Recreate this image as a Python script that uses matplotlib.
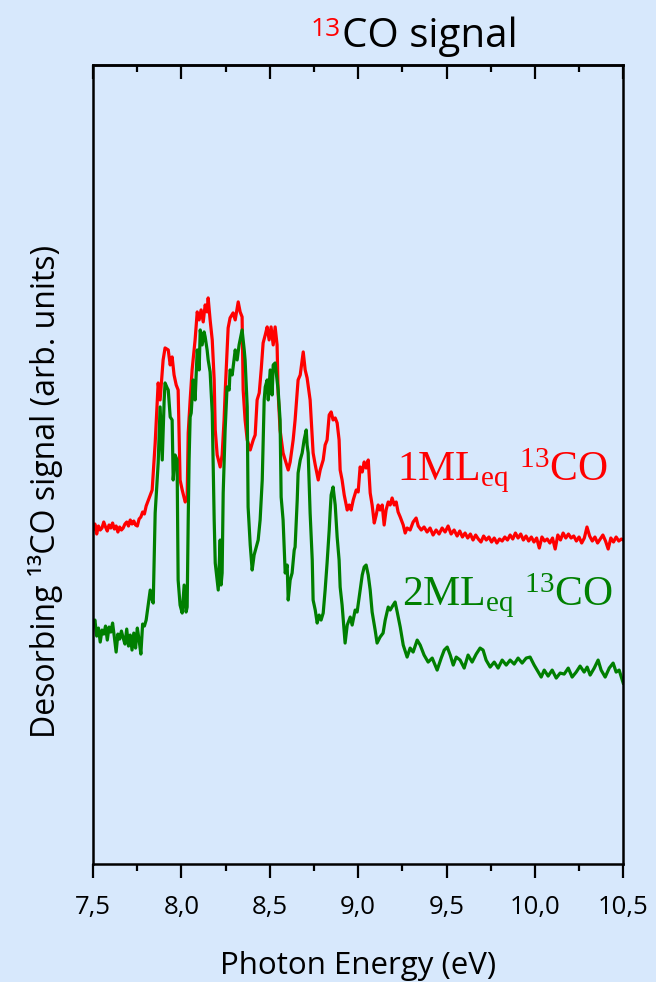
import matplotlib
matplotlib.use("Agg")
import matplotlib.pyplot as plt
from matplotlib.ticker import MultipleLocator, FuncFormatter

# 1 ML_eq 13CO desorption yield (arb. units) vs photon energy (eV)
e_1ml = [7.50, 7.51, 7.52, 7.53, 7.54, 7.55, 7.56, 7.57, 7.58, 7.59, 7.60, 7.61, 7.62, 7.63, 7.64,
         7.65, 7.66, 7.67, 7.68, 7.69, 7.70, 7.71, 7.72, 7.73, 7.74, 7.75, 7.76, 7.77, 7.78, 7.79,
         7.80, 7.834, 7.851, 7.868, 7.879, 7.896, 7.907, 7.925, 7.936, 7.947, 7.958, 7.970, 7.981,
         7.987, 7.992, 8.004, 8.021, 8.032, 8.038, 8.049, 8.060, 8.077, 8.089, 8.100, 8.111, 8.123,
         8.134, 8.145, 8.151, 8.162, 8.174, 8.185, 8.191, 8.202, 8.219, 8.230, 8.241, 8.247, 8.258,
         8.264, 8.275, 8.292, 8.304, 8.321, 8.332, 8.343, 8.349, 8.360, 8.372, 8.389, 8.406, 8.417,
         8.428, 8.440, 8.451, 8.462, 8.474, 8.485, 8.496, 8.507, 8.519, 8.530, 8.541, 8.547, 8.558,
         8.575, 8.587, 8.604, 8.615, 8.632, 8.643, 8.660, 8.672, 8.689, 8.700, 8.711, 8.728, 8.745,
         8.757, 8.774, 8.785, 8.802, 8.813, 8.824, 8.836, 8.847, 8.858, 8.870, 8.881, 8.892, 8.898,
         8.909, 8.921, 8.938, 8.949, 8.960, 8.972, 8.989, 9.000, 9.011, 9.023, 9.034, 9.045, 9.057,
         9.068, 9.079, 9.091, 9.102, 9.113, 9.124, 9.136, 9.147, 9.158, 9.170, 9.181, 9.192, 9.204,
         9.215, 9.226, 9.238, 9.255, 9.266, 9.277, 9.294, 9.311, 9.328, 9.340, 9.357, 9.373, 9.390,
         9.407, 9.424, 9.441, 9.458, 9.475, 9.492, 9.509, 9.526, 9.543, 9.56, 9.575, 9.59, 9.605,
         9.62, 9.635, 9.65, 9.665, 9.68, 9.695, 9.71, 9.725, 9.74, 9.755, 9.77, 9.785, 9.80, 9.815,
         9.83, 9.845, 9.86, 9.875, 9.89, 9.905, 9.92, 9.935, 9.95, 9.965, 9.98, 9.995, 10.01, 10.025,
         10.04, 10.055, 10.07, 10.085, 10.10, 10.115, 10.13, 10.145, 10.16, 10.175, 10.19, 10.205,
         10.22, 10.235, 10.25, 10.265, 10.28, 10.295, 10.31, 10.325, 10.34, 10.355, 10.37, 10.385,
         10.40, 10.415, 10.43, 10.445, 10.46, 10.475, 10.49, 10.50]
s_1ml = [3.35, 3.40, 3.30, 3.38, 3.34, 3.36, 3.42, 3.37, 3.33, 3.39, 3.36, 3.41, 3.35, 3.38, 3.32,
         3.37, 3.34, 3.36, 3.40, 3.42, 3.38, 3.44, 3.40, 3.43, 3.39, 3.38, 3.45, 3.47, 3.52, 3.50,
         3.58, 3.74, 4.21, 4.81, 4.64, 5.04, 5.16, 5.14, 4.99, 5.07, 4.89, 4.79, 4.74,
         4.24, 3.84, 3.74, 3.62, 3.66, 4.31, 4.64, 4.94, 5.24, 5.52, 5.44, 5.54, 5.42,
         5.59, 5.52, 5.66, 5.44, 5.24, 4.84, 4.34, 4.09, 3.97, 4.09, 4.44, 4.71, 5.14,
         5.36, 5.46, 5.51, 5.44, 5.62, 5.52, 5.47, 4.74, 4.44, 4.24, 4.14, 4.24, 4.29,
         4.64, 4.71, 4.94, 5.21, 5.29, 5.37, 5.24, 5.37, 5.19, 5.37, 5.19, 4.71, 4.34,
         4.11, 4.04, 3.94, 4.02, 4.24, 4.44, 4.84, 4.89, 5.12, 4.94, 4.86, 4.64, 4.11,
         3.99, 3.84, 3.94, 4.04, 4.19, 4.24, 4.49, 4.52, 4.44, 4.46, 4.41, 4.24, 3.94,
         3.84, 3.69, 3.54, 3.59, 3.54, 3.64, 3.74, 3.72, 3.97, 3.92, 4.02, 3.96, 4.04,
         3.71, 3.59, 3.41, 3.49, 3.59, 3.54, 3.59, 3.39, 3.54, 3.62, 3.59, 3.66, 3.59,
         3.62, 3.52, 3.47, 3.39, 3.31, 3.36, 3.34, 3.42, 3.46, 3.38, 3.34, 3.37, 3.32,
         3.36, 3.29, 3.34, 3.30, 3.36, 3.32, 3.38, 3.30, 3.34, 3.28, 3.33, 3.27, 3.31,
         3.26, 3.30, 3.24, 3.29, 3.25, 3.22, 3.28, 3.24, 3.27, 3.22, 3.26, 3.21, 3.25, 3.23,
         3.27, 3.24, 3.29, 3.25, 3.31, 3.26, 3.30, 3.24, 3.28, 3.23, 3.27, 3.22, 3.26, 3.16,
         3.27, 3.23, 3.25, 3.21, 3.26, 3.15, 3.29, 3.24, 3.31, 3.26, 3.30, 3.26,
         3.28, 3.23, 3.27, 3.21, 3.26, 3.37, 3.28, 3.23, 3.27, 3.21, 3.25, 3.29,
         3.23, 3.15, 3.26, 3.22, 3.27, 3.23, 3.25, 3.24]

# 2 ML_eq 13CO desorption yield (arb. units) vs photon energy (eV)
e_2ml = [7.50, 7.51, 7.52, 7.53, 7.54, 7.55, 7.56, 7.57, 7.58, 7.59, 7.60, 7.61, 7.62, 7.63, 7.64,
         7.65, 7.66, 7.67, 7.68, 7.69, 7.70, 7.71, 7.72, 7.73, 7.74, 7.75, 7.76, 7.77, 7.78, 7.79,
         7.80, 7.823, 7.834, 7.840, 7.851, 7.862, 7.868, 7.879, 7.891, 7.902, 7.907, 7.919, 7.925,
         7.936, 7.947, 7.953, 7.964, 7.975, 7.981, 7.992, 8.004, 8.015, 8.026, 8.032, 8.038, 8.043,
         8.049, 8.055, 8.066, 8.077, 8.089, 8.100, 8.106, 8.117, 8.128, 8.134, 8.145, 8.151, 8.162,
         8.174, 8.185, 8.191, 8.202, 8.208, 8.219, 8.224, 8.230, 8.236, 8.247, 8.258, 8.270, 8.275,
         8.287, 8.304, 8.315, 8.326, 8.343, 8.355, 8.360, 8.372, 8.377, 8.389, 8.400, 8.411, 8.423,
         8.434, 8.445, 8.457, 8.468, 8.474, 8.485, 8.491, 8.502, 8.513, 8.519, 8.530, 8.541, 8.547,
         8.558, 8.564, 8.575, 8.587, 8.598, 8.604, 8.615, 8.626, 8.638, 8.643, 8.655, 8.660, 8.672,
         8.683, 8.694, 8.706, 8.711, 8.717, 8.728, 8.740, 8.745, 8.757, 8.768, 8.779, 8.790, 8.802,
         8.813, 8.824, 8.836, 8.841, 8.847, 8.858, 8.870, 8.881, 8.892, 8.898, 8.909, 8.926, 8.938,
         8.955, 8.966, 8.983, 8.994, 9.011, 9.023, 9.034, 9.045, 9.057, 9.068, 9.079, 9.096, 9.107,
         9.124, 9.141, 9.153, 9.170, 9.181, 9.198, 9.209, 9.221, 9.238, 9.255, 9.277, 9.294, 9.311,
         9.334, 9.351, 9.373, 9.396, 9.419, 9.447, 9.470, 9.487, 9.504, 9.521, 9.538, 9.555, 9.577,
         9.600, 9.622, 9.645, 9.668, 9.690, 9.707, 9.724, 9.747, 9.770, 9.792, 9.815, 9.838, 9.860,
         9.883, 9.905, 9.928, 9.951, 9.973, 9.996, 10.019, 10.036, 10.053, 10.075, 10.098, 10.121,
         10.143, 10.166, 10.189, 10.211, 10.234, 10.256, 10.279, 10.296, 10.313, 10.336, 10.358,
         10.375, 10.398, 10.421, 10.443, 10.460, 10.477, 10.500]
s_2ml = [2.40, 2.44, 2.28, 2.36, 2.22, 2.34, 2.30, 2.38, 2.24, 2.37, 2.32, 2.41, 2.27, 2.12, 2.30,
         2.25, 2.33, 2.26, 2.20, 2.35, 2.18, 2.29, 2.14, 2.31, 2.16, 2.36, 2.24, 2.10, 2.40, 2.38,
         2.44, 2.74, 2.64, 2.61, 3.51, 3.84, 4.01, 4.57, 4.04, 4.64, 4.81, 4.76, 4.74,
         4.47, 4.44, 3.84, 4.09, 4.04, 2.84, 2.59, 2.51, 2.79, 2.52, 2.57, 3.44, 4.04,
         4.47, 4.51, 4.84, 4.64, 5.14, 4.94, 5.34, 5.19, 5.32, 5.27, 5.14, 5.04, 4.92,
         4.51, 3.44, 3.01, 2.84, 2.74, 3.24, 2.79, 2.91, 3.71, 4.34, 4.77, 4.74, 4.94,
         4.89, 5.14, 5.04, 5.19, 5.34, 5.14, 5.04, 4.57, 3.57, 3.19, 2.94, 3.09, 3.17,
         3.24, 3.44, 3.84, 4.64, 4.77, 4.84, 4.64, 4.94, 4.69, 4.99, 5.01, 4.84, 4.74,
         4.44, 3.67, 3.44, 2.91, 2.99, 2.64, 2.84, 2.91, 3.14, 3.17, 3.64, 3.91, 4.04,
         4.11, 4.24, 4.34, 4.19, 4.11, 3.51, 3.04, 2.64, 2.54, 2.41, 2.49, 2.44, 2.51,
         2.74, 3.01, 3.34, 3.51, 3.69, 3.77, 3.59, 3.27, 3.04, 2.77, 2.59, 2.21, 2.39,
         2.47, 2.39, 2.54, 2.52, 2.74, 2.89, 2.97, 2.99, 2.89, 2.74, 2.52, 2.34, 2.21,
         2.27, 2.31, 2.44, 2.57, 2.54, 2.59, 2.62, 2.52, 2.37, 2.19, 2.07, 2.16, 2.12,
         2.24, 2.19, 2.09, 2.02, 2.06, 1.94, 2.06, 2.14, 2.17, 2.09, 1.99, 2.07, 2.04,
         1.96, 2.09, 2.02, 2.10, 2.16, 2.14, 2.04, 1.97, 2.02, 1.96, 2.04, 1.99, 2.04,
         2.00, 2.06, 2.01, 2.06, 2.07, 1.99, 1.92, 1.87, 1.94, 1.88, 1.94, 1.86,
         1.91, 1.90, 1.96, 1.87, 1.92, 1.98, 1.92, 1.97, 1.89, 1.96, 2.04,
         1.94, 1.87, 1.96, 2.01, 1.92, 1.94, 1.81]

x_ticks = [7.5, 8.0, 8.5, 9.0, 9.5, 10.0, 10.5]

bg = "#d7e8fc"
plt.rcParams["mathtext.fontset"] = "custom"
plt.rcParams["mathtext.rm"] = "Liberation Serif"
plt.rcParams["mathtext.it"] = "Liberation Serif:italic"

fig = plt.figure(figsize=(6.56, 9.82), dpi=100, facecolor=bg)
ax = fig.add_axes([0.142, 0.12, 0.808, 0.814], facecolor=bg)

ax.plot(e_1ml, s_1ml, color="#ff0000", lw=2.3)
ax.plot(e_2ml, s_2ml, color="#007f00", lw=2.3)

ax.set_xlim(7.5, 10.5)
ax.set_ylim(0, 7.99)
ax.set_xticks(x_ticks)
ax.xaxis.set_minor_locator(MultipleLocator(0.25))
ax.xaxis.set_major_formatter(FuncFormatter(lambda v, p: f"{v:.1f}".replace(".", ",")))
ax.set_yticks([])
for sp in ax.spines.values():
    sp.set_linewidth(1.8)
ax.tick_params(axis="x", which="major", direction="out", length=10, width=1.6,
               labelsize=18.5, pad=12)
ax.tick_params(axis="x", which="minor", direction="out", length=5, width=1.6)
for lbl in ax.get_xticklabels():
    lbl.set_fontfamily("Open Sans")

top = ax.secondary_xaxis("top")
top.set_xticks(x_ticks)
top.xaxis.set_minor_locator(MultipleLocator(0.25))
top.tick_params(axis="x", which="major", direction="in", length=10, width=1.6, labeltop=False)
top.tick_params(axis="x", which="minor", direction="in", length=5, width=1.6)
top.spines["top"].set_linewidth(1.8)

ax.set_xlabel("Photon Energy (eV)", fontsize=22.5, family="Open Sans", va="center")
ax.xaxis.set_label_coords(0.5, -0.128)
ax.set_ylabel("Desorbing \u00b9\u00b3CO signal (arb. units)", fontsize=23,
              family="Open Sans", va="center")
ax.yaxis.set_label_coords(-0.09, 0.466)

ax.text(0.574, 0.479, r"1ML$_{\mathrm{eq}}$ $^{13}$CO", transform=ax.transAxes,
        color="#ff0000", fontsize=30, family="Liberation Serif")
ax.text(0.583, 0.323, r"2ML$_{\mathrm{eq}}$ $^{13}$CO", transform=ax.transAxes,
        color="#008000", fontsize=30, family="Liberation Serif")

title = fig.text(0.522, 0.952, "CO signal", fontsize=29, family="Open Sans",
                 ha="left", va="baseline")
ax.annotate("13", xy=(0, 1), xycoords=title, xytext=(-1, 0), textcoords="offset points",
            color="#ff0000", fontsize=19, family="Open Sans", ha="right", va="top",
            annotation_clip=False)

fig.savefig("out.png", dpi=100, facecolor=bg)
